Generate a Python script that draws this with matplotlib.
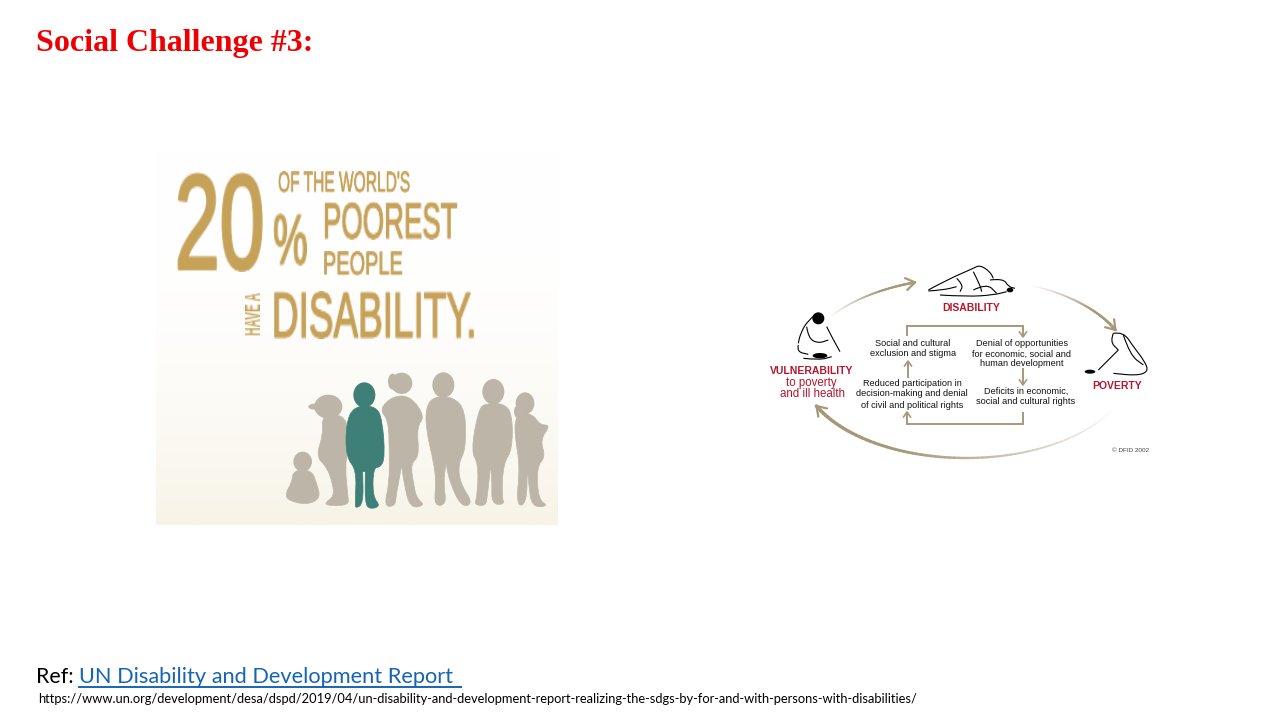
import numpy as np
import matplotlib.pyplot as plt
from matplotlib.patches import Ellipse, PathPatch
from matplotlib.path import Path
from matplotlib.text import Text
from matplotlib.collections import LineCollection
from matplotlib.colors import to_rgb
import matplotlib.patheffects as pe

TITLE = 'Social Challenge #3:'
REF_LABEL = 'Ref: '
REF_LINK = 'UN Disability and Development Report '
REF_URL = ('https://www.un.org/development/desa/dspd/2019/04/un-disability-and-development-'
           'report-realizing-the-sdgs-by-for-and-with-persons-with-disabilities/')

GOLD = '#C6A158'
GREY = '#BDB6A8'
TEAL = '#3E7F78'
TAN = '#A8987A'
RED = '#B5172C'
INK = '#111111'

poster_strings = ['20', "OF THE WORLD'S", '%', 'POOREST', 'PEOPLE', 'DISABILITY.']
# left, baseline, ink width, ink height, font size (narrow enough that width fits, height is stretched)
poster_layout = [
    (175, 270, 86, 100, 54),
    (278, 192, 132, 22, 15),
    (273, 265, 34, 53, 24),
    (323, 239, 134, 39, 19.5),
    (323, 275, 79, 25, 14),
    (272, 338, 200, 48, 25),
]

# the children, in pixels of the 420x380 poster crop at 3x
child_heads = [
    (458, 935, 28, 30), (535, 770, 42, 36), (755, 700, 32, 32), (643, 735, 33, 38),
    (880, 705, 33, 38), (1030, 725, 33, 38), (1125, 760, 28, 33),
]
child_colours = [GREY, GREY, GREY, TEAL, GREY, GREY, GREY]
child_bodies = [
    [(430, 960), (485, 960), (500, 1000), (512, 1045), (470, 1065), (410, 1050), (408, 1025), (425, 1000)],
    [(515, 795), (592, 795), (594, 900), (585, 950), (594, 1040), (596, 1064), (550, 1068), (520, 1062), (552, 1040), (548, 1000), (530, 950), (498, 920), (520, 850)],
    [(728, 738), (782, 738), (825, 800), (800, 830), (808, 920), (782, 940), (790, 1000), (800, 1045), (826, 1066), (780, 1075), (762, 1000), (755, 945), (755, 945), (738, 1040), (735, 1068), (702, 1070), (718, 1000), (718, 900), (715, 810), (688, 778)],
    [(612, 768), (678, 768), (697, 810), (705, 920), (692, 952), (670, 952), (668, 1040), (692, 1068), (660, 1078), (645, 1060), (646, 965), (646, 965), (638, 965), (638, 965), (640, 1060), (618, 1076), (615, 1060), (620, 960), (588, 922), (588, 820)],
    [(852, 740), (908, 740), (947, 780), (947, 900), (925, 940), (930, 1000), (970, 1060), (935, 1072), (900, 1000), (888, 940), (888, 940), (880, 1000), (890, 1064), (852, 1068), (858, 1000), (852, 940), (828, 840), (828, 770)],
    [(1005, 760), (1060, 760), (1087, 790), (1087, 900), (1060, 940), (1055, 1040), (1064, 1064), (1025, 1062), (1026, 1000), (1022, 945), (1022, 945), (1012, 1040), (1007, 1068), (972, 1064), (982, 1040), (985, 940), (963, 905), (985, 780)],
    [(1112, 785), (1150, 795), (1170, 825), (1202, 825), (1170, 870), (1187, 920), (1160, 950), (1165, 1050), (1197, 1068), (1145, 1072), (1136, 1000), (1132, 950), (1132, 950), (1130, 1062), (1098, 1068), (1110, 950), (1095, 860), (1095, 810)],
]
# ponytails and hair
child_hair = [(495, 770, 20, 9), (728, 695, 14, 24), (1102, 785, 10, 18)]

cycle_labels = [
    'DISABILITY', 'POVERTY', 'VULNERABILITY', 'to poverty', 'and ill health',
    'Social and cultural', 'exclusion and stigma',
    'Denial of opportunities', 'for economic, social and', 'human development',
    'Reduced participation in', 'decision-making and denial', 'of civil and political rights',
    'Deficits in economic,', 'social and cultural rights',
]
# x centre, y centre, size, colour, weight
cycle_layout = [
    (971, 308, 7.5, RED, 'bold'), (1117, 386, 7.5, RED, 'bold'), (812, 371, 7.5, RED, 'bold'),
    (811, 383, 8.3, RED, 'normal'), (812, 394, 8.3, RED, 'normal'),
    (913, 343, 6.6, INK, 'normal'), (913, 354, 6.6, INK, 'normal'),
    (1022, 343, 6.6, INK, 'normal'), (1022, 354, 6.6, INK, 'normal'), (1022, 364, 6.6, INK, 'normal'),
    (912, 383, 6.6, INK, 'normal'), (912, 394, 6.6, INK, 'normal'), (912, 405, 6.6, INK, 'normal'),
    (1026, 391, 6.6, INK, 'normal'), (1026, 402, 6.6, INK, 'normal'),
]

flow_lines = [
    [(907, 335), (907, 326), (1023, 326), (1023, 336)],
    [(908, 377), (908, 362)],
    [(1023, 369), (1023, 384)],
    [(1023, 413), (1023, 424), (907, 424), (907, 413)],
]
flow_heads = [(1023, 337, 1), (908, 361, -1), (1023, 385, 1), (907, 412, -1)]

# sketched people, strokes in pixels of the 400x210 diagram crop at 3x
sketch_strokes = [
    [(505, 105), (560, 75), (640, 40), (660, 30), (690, 50), (700, 70)],
    [(505, 108), (550, 105), (590, 95)],
    [(540, 120), (620, 125), (700, 120), (740, 110)],
    [(640, 50), (660, 90), (665, 110)],
    [(690, 75), (730, 70), (745, 95), (765, 100)],
    [(640, 105), (680, 85), (710, 115)],
    [(590, 70), (610, 90), (600, 110)],
    [(170, 175), (140, 200), (120, 240), (115, 265)],
    [(200, 215), (215, 245), (240, 290)],
    [(140, 215), (145, 250), (175, 265), (205, 255)],
    [(115, 270), (110, 290), (145, 298)],
    [(130, 310), (180, 315), (215, 305)],
    [(1060, 235), (1090, 230), (1120, 275), (1155, 320), (1165, 350), (1130, 362), (1060, 355)],
    [(1060, 235), (1050, 260), (1075, 285)],
    [(1075, 285), (1050, 310), (1015, 345)],
    [(1090, 240), (1110, 300), (1150, 330)],
]
sketch_blobs = [
    (175, 190, 18, 18), (180, 302, 22, 8), (990, 350, 16, 6), (750, 105, 10, 7),
]


def stretch_rows(a, n):
    # smooth resampling along the first axis
    pos = (np.arange(n) + 0.5) * len(a) / n - 0.5
    i = np.clip(np.floor(pos).astype(int), 0, len(a) - 2)
    f = (pos - i)[:, None]
    return a[i] * (1 - f) + a[i + 1] * f


class FittedText(Text):
    # no condensed font here, so the drawn glyphs get stretched to the wanted ink box
    def __init__(self, x, y, s, ink_w, ink_h, **kw):
        super().__init__(x, y, s, **kw)
        rgb = to_rgb(self.get_color())

        def fit(img, dpi):
            alpha = stretch_rows(stretch_rows(img[:, :, 3], ink_h).T, ink_w).T
            out = np.zeros((ink_h, ink_w, 4))
            out[:, :, :3] = rgb
            out[:, :, 3] = np.clip(alpha, 0, 1)
            return out, 0, 0
        self.set_agg_filter(fit)


def smooth_path(pts, closed=False):
    pts = np.asarray(pts, float)
    if closed:
        mids = (pts + np.roll(pts, -1, axis=0)) / 2
        verts = [mids[-1]]
        codes = [Path.MOVETO]
        for p, m in zip(pts, mids):
            verts += [p, m]
            codes += [Path.CURVE3, Path.CURVE3]
        return Path(verts, codes)
    verts = [pts[0]]
    codes = [Path.MOVETO]
    for k in range(1, len(pts) - 1):
        verts += [pts[k], (pts[k] + pts[k + 1]) / 2]
        codes += [Path.CURVE3, Path.CURVE3]
    verts.append(pts[-1])
    codes.append(Path.LINETO)
    return Path(verts, codes)


fig = plt.figure(figsize=(12.8, 7.2), dpi=100, facecolor='white')
ax = fig.add_axes([0, 0, 1, 1])

ax.text(36, 51, TITLE, family='Liberation Serif', weight='bold', fontsize=23, color='#EE0000')

# poster background, white fading to cream
fade = np.linspace(0, 1, 200) ** 2.5
top, bottom = np.array([1, 1, 1.0]), np.array(to_rgb('#F7F3E6'))
poster = (top + (bottom - top) * fade[:, None])[:, None, :]
ax.imshow(poster, extent=(156, 558, 525, 152), aspect='auto', zorder=0)
ax.set_xlim(0, 1280)
ax.set_ylim(720, 0)
ax.axis('off')

for s, (x, y, w, h, size) in zip(poster_strings, poster_layout):
    t = FittedText(x, y, s, w, h, family='Liberation Sans', fontsize=size, color=GOLD,
                   va='baseline', zorder=3)
    t.set_path_effects([pe.withStroke(linewidth=size * 0.03, foreground=GOLD)])
    ax.add_artist(t)
ax.add_artist(FittedText(245, 335, 'HAVE A', 15, 43, family='Liberation Sans', weight='bold',
                         fontsize=6.5, color=GOLD, rotation=90, ha='left', va='bottom', zorder=3))

for (hx, hy, rx, ry), col, body in zip(child_heads, child_colours, child_bodies):
    ax.add_patch(Ellipse((150 + hx / 3, 150 + hy / 3), 2 * rx / 3, 2 * ry / 3, color=col, lw=0, zorder=2))
    pts = [(150 + px / 3, 150 + py / 3) for px, py in body]
    ax.add_patch(PathPatch(smooth_path(pts, closed=True), facecolor=col, edgecolor=col, lw=0.5, zorder=2))
for hx, hy, rx, ry in child_hair:
    ax.add_patch(Ellipse((150 + hx / 3, 150 + hy / 3), 2 * rx / 3, 2 * ry / 3, color=GREY, lw=0, zorder=2))


def fading_arc(start, end, widest):
    t = np.radians(np.linspace(start, end, 80))
    pts = np.column_stack([966 + 165 * np.cos(t), 368 + 90 * np.sin(t)])
    segs = np.stack([pts[:-1], pts[1:]], axis=1)
    k = np.linspace(0, 1, len(segs))
    tan = np.array(to_rgb(TAN))
    cols = 1 + (tan - 1) * np.clip(k * 1.5, 0, 1)[:, None]
    ax.add_collection(LineCollection(segs, colors=cols, linewidths=0.8 + k * widest, capstyle='round'))
    d = pts[-1] - pts[-4]
    d = d / np.hypot(*d)
    n = np.array([-d[1], d[0]])
    a = pts[-1] - 9 * d + 6 * n
    b = pts[-1] - 9 * d - 6 * n
    ax.plot([a[0], pts[-1][0], b[0]], [a[1], pts[-1][1], b[1]], color=tan, lw=1.6, solid_capstyle='round')


fading_arc(-146, -108, 1.0)
fading_arc(-68, -25, 1.2)
fading_arc(25, 155, 1.8)

for line in flow_lines:
    xs, ys = zip(*line)
    ax.plot(xs, ys, color=TAN, lw=1.4, solid_joinstyle='miter')
for x, y, sgn in flow_heads:
    ax.plot([x - 3.5, x, x + 3.5], [y - 5 * sgn, y, y - 5 * sgn], color=TAN, lw=1.2)

for stroke in sketch_strokes:
    pts = [(760 + px / 3, 255 + py / 3) for px, py in stroke]
    ax.add_patch(PathPatch(smooth_path(pts), facecolor='none', edgecolor='black', lw=0.8))
for x, y, rx, ry in sketch_blobs:
    ax.add_patch(Ellipse((760 + x / 3, 255 + y / 3), 2 * rx / 3, 2 * ry / 3, color='black', lw=0))

for s, (x, y, size, col, weight) in zip(cycle_labels, cycle_layout):
    ax.text(x, y, s, family='Liberation Sans', fontsize=size, color=col, ha='center', va='center', weight=weight)
ax.text(1131, 450, '© DFID 2002', family='Liberation Sans', fontsize=4.6, color='#444444', ha='center', va='center')

# reference block
ax.text(36, 683, REF_LABEL, family='Lato', fontsize=15.4, color='black')
ax.text(79, 683, REF_LINK.strip(), family='Lato', fontsize=15.7, color='#1565B5')
ax.plot([79, 461], [686.5, 686.5], color='#1565B5', lw=1.4)
ax.text(38, 703, REF_URL, family='Lato', fontsize=9.32, color='black')

fig.savefig('out.png', dpi=100)
